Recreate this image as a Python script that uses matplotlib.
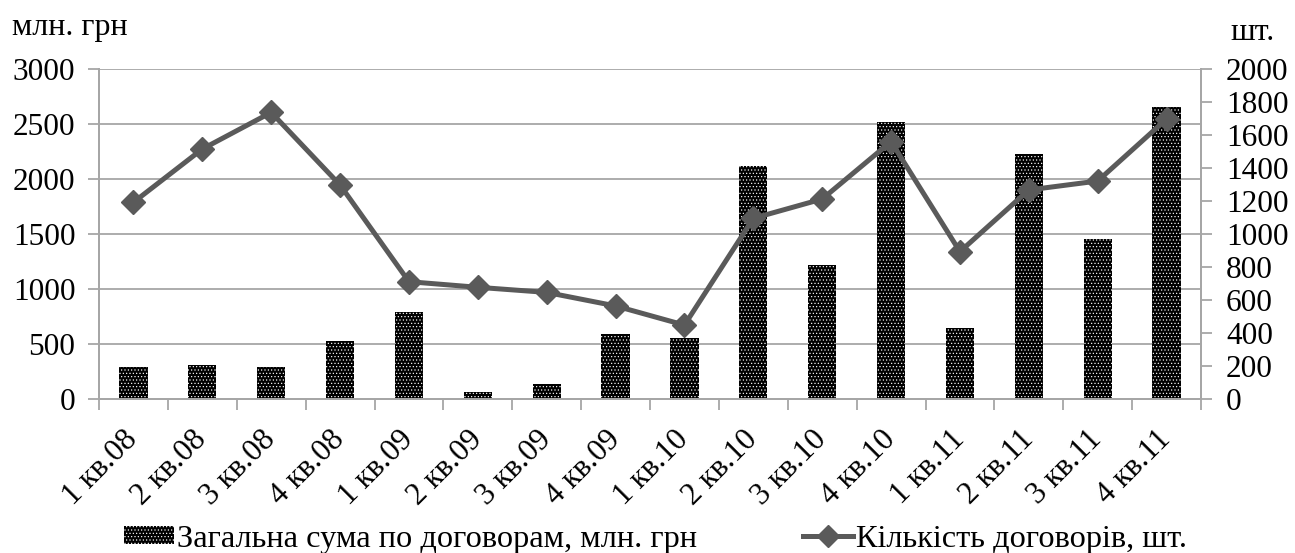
import matplotlib
matplotlib.use("Agg")
import matplotlib.pyplot as plt
from matplotlib.patches import Patch
from matplotlib.lines import Line2D
import numpy as np

categories = ["1 кв.08", "2 кв.08", "3 кв.08", "4 кв.08",
              "1 кв.09", "2 кв.09", "3 кв.09", "4 кв.09",
              "1 кв.10", "2 кв.10", "3 кв.10", "4 кв.10",
              "1 кв.11", "2 кв.11", "3 кв.11", "4 кв.11"]
total_sum = [294, 306, 294, 530, 794, 61, 133, 588,
             552, 2118, 1215, 2521, 642, 2230, 1452, 2652]
contracts = [1192, 1515, 1737, 1297, 711, 677, 646, 564,
             448, 1095, 1212, 1560, 893, 1267, 1321, 1697]
bar_label = "Загальна сума по договорам, млн. грн"
line_label = "Кількість договорів, шт."
left_unit = "млн. грн"
right_unit = "шт."

plt.rcParams['font.family'] = ['Liberation Serif', 'DejaVu Serif']
plt.rcParams['hatch.linewidth'] = 0.45

W, H = 1295, 553
fig = plt.figure(figsize=(W / 100, H / 100), dpi=100)
ax = fig.add_axes([99 / W, 1 - 399 / H, (1201 - 99) / W, 330 / H])
ax2 = ax.twinx()

grid_c = '#a6a6a6'
line_c = '#5a5a5a'
fs = 22.5
hatch = '.....'

x = np.arange(len(categories))
ax.bar(x, total_sum, width=0.41, color='black', edgecolor='white',
       linewidth=0, hatch=hatch, zorder=2)
ax2.plot(x, contracts, color=line_c, lw=3.6, marker='D', ms=12.5,
         zorder=3)

ax.set_xlim(-0.5, len(categories) - 0.5)
ax.set_ylim(0, 3000)
ax.set_yticks(np.arange(0, 3001, 500))
ax2.set_ylim(0, 2000)
ax2.set_yticks(np.arange(0, 2001, 200))

ax.yaxis.grid(True, color=grid_c, lw=1.3, zorder=0)
ax.set_axisbelow(True)

for a in (ax, ax2):
    for s in a.spines.values():
        s.set_color(grid_c)
        s.set_linewidth(1.3)
    a.spines['top'].set_visible(False)
ax2.set_zorder(ax.get_zorder() + 1)
ax2.patch.set_visible(False)

ax.tick_params(axis='y', length=8, width=1.3, color=grid_c, labelsize=fs, pad=9)
ax2.tick_params(axis='y', length=8, width=1.3, color=grid_c, labelsize=fs, pad=10)

ax.set_xticks(x)
ax.set_xticklabels(categories, rotation=45, ha='right', va='center',
                   rotation_mode='anchor', fontsize=fs)
ax.tick_params(axis='x', which='major', length=0, pad=26)
ax.set_xticks(np.arange(-0.5, len(categories), 1.0), minor=True)
ax.tick_params(axis='x', which='minor', length=8, width=1.3, color=grid_c)

fig.text(12 / W, 1 - 27 / H, left_unit, fontsize=23, ha='left', va='center')
fig.text(1230 / W, 1 - 33 / H, right_unit, fontsize=23, ha='left', va='center')

bar_handle = Patch(facecolor='black', edgecolor='white', linewidth=0, hatch=hatch)
line_handle = Line2D([], [], color=line_c, lw=3.6, marker='D', ms=11)

leg_kw = dict(frameon=False, fontsize=23.3, borderpad=0, borderaxespad=0,
              handletextpad=0.08, loc='center left')
leg1 = fig.legend([bar_handle], [bar_label], bbox_to_anchor=(124 / W, 1 - 539 / H),
                  handlelength=1.55, handleheight=0.5, **leg_kw)
leg2 = fig.legend([line_handle], [line_label], bbox_to_anchor=(803 / W, 1 - 539 / H),
                  handlelength=1.55, **leg_kw)

fig.savefig("out.png", dpi=100)
